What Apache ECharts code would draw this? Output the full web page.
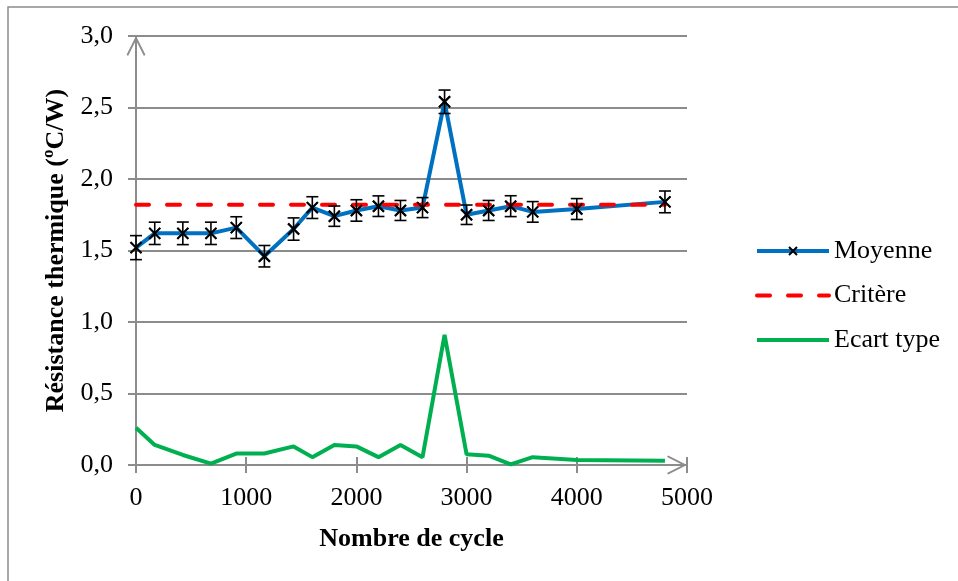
<!DOCTYPE html>
<html>
<head>
<meta charset="utf-8">
<script src="https://cdn.jsdelivr.net/npm/echarts@6/dist/echarts.min.js"></script>
<style>
html,body{margin:0;padding:0;background:#fff;}
#chart{width:958px;height:581px;}
</style>
</head>
<body>
<div id="chart"></div>
<script>
// Data
const cycles   = [0, 170, 425, 680, 910, 1165, 1430, 1600, 1800, 2000, 2200, 2400, 2600, 2800, 3000, 3200, 3400, 3600, 4000, 4800];
const moyenne  = [1.52, 1.62, 1.62, 1.62, 1.66, 1.46, 1.65, 1.80, 1.74, 1.78, 1.81, 1.78, 1.80, 2.54, 1.75, 1.78, 1.81, 1.77, 1.79, 1.84];
const erreur   = [0.084, 0.078, 0.079, 0.078, 0.076, 0.075, 0.078, 0.076, 0.071, 0.075, 0.072, 0.07, 0.07, 0.082, 0.068, 0.07, 0.073, 0.072, 0.073, 0.076];
const critere  = [1.82, 1.82, 1.82, 1.82, 1.82, 1.82, 1.82, 1.82, 1.82, 1.82, 1.82, 1.82, 1.82, 1.82, 1.82, 1.82, 1.82, 1.82, 1.82, 1.82];
const ecartType = [0.26, 0.14, 0.07, 0.01, 0.08, 0.08, 0.13, 0.055, 0.14, 0.13, 0.055, 0.14, 0.055, 0.91, 0.075, 0.065, 0.005, 0.055, 0.035, 0.03];
const seriesNames = ['Moyenne', 'Critère', 'Ecart type'];
const xTitle = 'Nombre de cycle';
const yTitle = 'Résistance thermique (ºC/W)';

const pair = (ys) => cycles.map((x, i) => [x, ys[i]]);
const errData = cycles.map((x, i) => [x, moyenne[i] - erreur[i], moyenne[i] + erreur[i]]);

const FONT = '"Liberation Serif", "Times New Roman", serif';
const GRAY = '#8c8c8c';
const XMARK = 'path://M0,0L10,10M10,0L0,10';
const CHEVRON = 'path://M0,10L5,0L10,10L9.2,10.6L5,2.2L0.8,10.6Z';

const chart = echarts.init(document.getElementById('chart'), null, {renderer: 'canvas'});
chart.setOption({
  animation: false,
  backgroundColor: '#fff',
  textStyle: {fontFamily: FONT, color: '#000'},
  graphic: [{
    type: 'rect', z: 0,
    shape: {x: 8, y: 7, width: 1200, height: 1200},
    style: {fill: 'none', stroke: GRAY, lineWidth: 1.5}
  }],
  grid: {left: 136, right: 271, top: 36, bottom: 116, containLabel: false},
  legend: {
    data: [
      {name: seriesNames[0]},
      {name: seriesNames[1], itemStyle: {opacity: 0}},
      {name: seriesNames[2], itemStyle: {opacity: 0}}
    ],
    orient: 'vertical',
    left: 755, top: 238, padding: 0,
    itemWidth: 72, itemHeight: 10, itemGap: 18.5,
    lineStyle: {width: 4},
    textStyle: {fontFamily: FONT, fontSize: 26, color: '#000', lineHeight: 26},
    selectedMode: false
  },
  xAxis: [{
    type: 'value', min: 0, max: 5000, interval: 1000,
    name: xTitle, nameLocation: 'middle', nameGap: 61,
    nameTextStyle: {fontFamily: FONT, fontSize: 26, fontWeight: 'bold', color: '#000'},
    axisLine: {show: true, lineStyle: {color: GRAY, width: 2},
      symbol: ['none', CHEVRON], symbolSize: [20, 20], symbolOffset: [0, -10]},
    axisTick: {show: true, inside: false, length: 8, lineStyle: {color: GRAY, width: 2}},
    axisLabel: {fontFamily: FONT, fontSize: 26, color: '#000', margin: 20,
      formatter: (v) => String(v)},
    splitLine: {show: false}
  }, {
    type: 'value', min: 0, max: 5000, interval: 1000, position: 'bottom',
    axisLine: {show: false},
    axisTick: {show: true, inside: true, length: 8, lineStyle: {color: GRAY, width: 2}},
    axisLabel: {show: false},
    splitLine: {show: false}
  }],
  yAxis: {
    type: 'value', min: 0, max: 3, interval: 0.5,
    name: yTitle, nameLocation: 'middle', nameGap: 64,
    nameTextStyle: {fontFamily: FONT, fontSize: 26, fontWeight: 'bold', color: '#000'},
    axisLine: {show: true, lineStyle: {color: GRAY, width: 2},
      symbol: ['none', CHEVRON], symbolSize: [20, 20], symbolOffset: [0, -10]},
    axisTick: {show: true, inside: false, length: 8, lineStyle: {color: GRAY, width: 2}},
    axisLabel: {fontFamily: FONT, fontSize: 26, color: '#000', margin: 23,
      formatter: (v) => v.toFixed(1).replace('.', ',')},
    splitLine: {show: true, lineStyle: {color: GRAY, width: 2}}
  },
  series: [{
    name: seriesNames[0], type: 'line', data: pair(moyenne), z: 3,
    symbol: XMARK, symbolSize: 11, showSymbol: true,
    lineStyle: {color: '#0070C0', width: 4},
    itemStyle: {color: 'none', borderColor: '#000', borderWidth: 2},
    emphasis: {disabled: true}
  }, {
    name: seriesNames[1], type: 'line', data: pair(critere), z: 4,
    symbol: 'none',
    lineStyle: {color: '#FF0000', width: 4, type: [13, 18], cap: 'round'},
    itemStyle: {color: '#FF0000'},
    emphasis: {disabled: true}
  }, {
    name: seriesNames[2], type: 'line', data: pair(ecartType), z: 3,
    symbol: 'none',
    lineStyle: {color: '#00B050', width: 4},
    itemStyle: {color: '#00B050'},
    emphasis: {disabled: true}
  }, {
    name: 'errbars', type: 'custom', data: errData, z: 5,
    encode: {x: 0, y: [1, 2]},
    renderItem: function (params, api) {
      const x = api.value(0);
      const lo = api.coord([x, api.value(1)]);
      const hi = api.coord([x, api.value(2)]);
      const hw = 6;
      const st = {stroke: '#000', lineWidth: 1.6};
      return {type: 'group', children: [
        {type: 'line', shape: {x1: lo[0], y1: lo[1], x2: hi[0], y2: hi[1]}, style: st},
        {type: 'line', shape: {x1: lo[0] - hw, y1: lo[1], x2: lo[0] + hw, y2: lo[1]}, style: st},
        {type: 'line', shape: {x1: hi[0] - hw, y1: hi[1], x2: hi[0] + hw, y2: hi[1]}, style: st}
      ]};
    }
  }, {
    name: 'marks', type: 'scatter', data: pair(moyenne), z: 6,
    symbol: XMARK, symbolSize: 11,
    itemStyle: {color: 'none', borderColor: '#000', borderWidth: 2},
    emphasis: {disabled: true}
  }]
});
</script>
</body>
</html>
